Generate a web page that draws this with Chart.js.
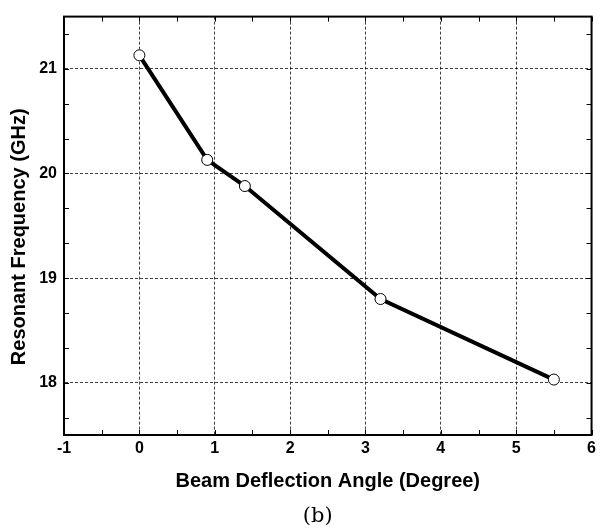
<!DOCTYPE html>
<html>
<head>
<meta charset="utf-8">
<script src="https://cdn.jsdelivr.net/npm/chart.js@4"></script>
<style>
html, body { margin: 0; padding: 0; background: #fff; }
</style>
</head>
<body>
<canvas id="chart" width="600" height="530"></canvas>
<script>
// values
const angles = [0, 0.9, 1.4, 3.2, 5.5];
const freqs = [21.13, 20.13, 19.88, 18.8, 18.03];
const xTicks = [-1, 0, 1, 2, 3, 4, 5, 6];
const yTicks = [18, 19, 20, 21];

const tickFont = { family: 'Liberation Sans', size: 16, weight: 'bold' };
const titleFont = { family: 'Liberation Sans', size: 20, weight: 'bold' };

// frame box, inward ticks on all four sides, y title and the (b) caption
const framePlugin = {
    id: 'frame',
    beforeDatasetsDraw(chart) {
        const { ctx, chartArea: a, scales: { x, y } } = chart;
        ctx.save();
        ctx.strokeStyle = '#000';
        ctx.lineWidth = 1;
        ctx.beginPath();
        for (let v = -1; v <= 6; v += 0.5) {
            const px = Math.round(x.getPixelForValue(v)) + 0.5;
            ctx.moveTo(px, a.bottom); ctx.lineTo(px, a.bottom - 5);
            ctx.moveTo(px, a.top); ctx.lineTo(px, a.top + 5);
        }
        for (let k = 0; k < 12; k++) {
            const v = 18 - 1 / 3 + k / 3;
            const py = Math.round(y.getPixelForValue(v)) + 0.5;
            ctx.moveTo(a.left, py); ctx.lineTo(a.left + 5, py);
            ctx.moveTo(a.right, py); ctx.lineTo(a.right - 5, py);
        }
        ctx.stroke();
        ctx.lineWidth = 2;
        ctx.strokeRect(a.left, a.top, a.right - a.left, a.bottom - a.top);
        ctx.restore();
    },
    afterDraw(chart) {
        const { ctx, chartArea: a } = chart;
        ctx.save();
        ctx.fillStyle = '#000';
        ctx.textAlign = 'center';
        ctx.textBaseline = 'middle';
        ctx.font = 'bold 20px "Liberation Sans"';
        ctx.translate(19, (a.top + a.bottom) / 2 + 11);
        ctx.rotate(-Math.PI / 2);
        ctx.fillText('Resonant Frequency (GHz)', 0, 0);
        ctx.restore();

        ctx.save();
        ctx.fillStyle = '#000';
        ctx.font = '21px "DejaVu Serif"';
        ctx.textAlign = 'center';
        ctx.textBaseline = 'middle';
        ctx.fillText('(b)', (a.left + a.right) / 2 - 10, 517);
        ctx.restore();
    }
};

new Chart(document.getElementById('chart'), {
    type: 'scatter',
    data: {
        datasets: [{
            data: angles.map((a, i) => ({ x: a, y: freqs[i] })),
            showLine: true,
            borderColor: '#000',
            borderWidth: 4,
            pointRadius: 5.5,
            pointBackgroundColor: '#fff',
            pointBorderColor: '#000',
            pointBorderWidth: 1
        }]
    },
    options: {
        responsive: false,
        animation: false,
        layout: { padding: { left: 0, right: 5, top: 15, bottom: 0 } },
        plugins: {
            legend: { display: false },
            tooltip: { enabled: false }
        },
        scales: {
            x: {
                type: 'linear',
                min: -1,
                max: 6,
                afterBuildTicks: (s) => { s.ticks = xTicks.map(v => ({ value: v })); },
                afterFit: (s) => { s.height = 95; },
                ticks: { color: '#000', font: tickFont, padding: 4, callback: (v) => String(v) },
                grid: { color: 'rgba(0,0,0,0.75)', lineWidth: 1, drawTicks: false },
                border: { display: true, color: '#000', width: 2, dash: [3, 2] },
                title: {
                    display: true,
                    text: 'Beam Deflection Angle (Degree)',
                    color: '#000',
                    font: titleFont,
                    padding: { top: 0, bottom: 37 }
                }
            },
            y: {
                type: 'linear',
                min: 17.5,
                max: 21.5,
                afterBuildTicks: (s) => { s.ticks = yTicks.map(v => ({ value: v })); },
                afterFit: (s) => { s.width = 64; },
                ticks: { color: '#000', font: tickFont, padding: 7, callback: (v) => String(v) },
                grid: { color: 'rgba(0,0,0,0.75)', lineWidth: 1, drawTicks: false },
                border: { display: true, color: '#000', width: 2, dash: [3, 2] }
            }
        }
    },
    plugins: [framePlugin]
});
</script>
</body>
</html>
